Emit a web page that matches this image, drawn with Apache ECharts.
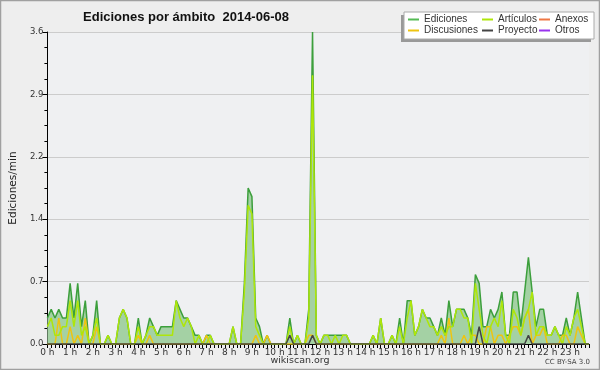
<!DOCTYPE html>
<html><head><meta charset="utf-8">
<script src="https://cdn.jsdelivr.net/npm/echarts@6/dist/echarts.min.js"></script>
<style>html,body{margin:0;padding:0;background:#eeeeee}#c{width:600px;height:370px}</style>
</head><body><div id="c"></div>
<script>
// hour tick labels
const hourLabels = ['0 h','1 h','2 h','3 h','4 h','5 h','6 h','7 h','8 h','9 h','10 h','11 h',
  '12 h','13 h','14 h','15 h','16 h','17 h','18 h','19 h','20 h','21 h','22 h','23 h'];
const minuteSlots = ['00','10','20','30','40','50'];
// categories: 10-minute slots of the day
const categories = [];
hourLabels.forEach((h, hi) => minuteSlots.forEach(m => categories.push(hi + ':' + m)));

// edits per minute, one row per hour (6 x 10-minute slots)
const ediciones = [
  0.3,0.4,0.3,0.4,0.3,0.3,  0.7,0.3,0.7,0.2,0.5,0,    0.1,0.5,0,0,0.1,0,      0,0.3,0.4,0.3,0,0,
  0.3,0,0.1,0.3,0.2,0.1,    0.2,0.2,0.2,0.2,0.5,0.4,  0.3,0.3,0.2,0.1,0.1,0,  0.1,0.1,0,0,0,0,
  0,0.2,0,0,0.7,1.8,        1.7,0.3,0.2,0,0.1,0,      0,0,0,0,0.3,0,          0.1,0,0,0.4,3.6,0.1,
  0,0.1,0.1,0.1,0.1,0.1,    0.1,0.1,0,0,0,0,          0,0,0.1,0,0.3,0,        0,0.1,0,0.3,0,0.5,
  0.5,0.1,0.2,0.4,0.3,0.3,  0.2,0.1,0.3,0.1,0.5,0.2,  0.4,0.4,0.4,0.3,0.1,0.8,0.7,0.2,0.2,0.4,0.3,0.4,
  0.6,0.1,0.1,0.6,0.6,0.2,  0.6,1.0,0.6,0.2,0.4,0.4,  0.1,0.1,0.2,0.1,0.1,0.3,0.1,0.3,0.6,0.3,0,0
];
const articulos = [
  0.2,0.3,0.1,0.1,0.2,0.2,  0.5,0.2,0.5,0.1,0.2,0,    0.1,0.3,0,0,0.1,0,      0,0.3,0.4,0.3,0,0,
  0.2,0,0.1,0.2,0.2,0.1,    0.1,0.1,0.1,0.1,0.5,0.3,  0.2,0.3,0.2,0,0.1,0,    0,0.1,0,0,0,0,
  0,0.2,0,0,0.6,1.6,        1.5,0.2,0.1,0,0,0,        0,0,0,0,0.2,0,          0.1,0,0,0.3,3.1,0.1,
  0,0.1,0.1,0,0.1,0,        0.1,0.1,0,0,0,0,          0,0,0.1,0,0.3,0,        0,0.1,0,0.2,0,0.3,
  0.5,0.1,0.2,0.4,0.3,0.2,  0.2,0.1,0.2,0.1,0.2,0.2,  0.4,0.4,0.3,0.3,0,0.7,  0.4,0.1,0,0.2,0.3,0.2,
  0.5,0.1,0,0.4,0.3,0.1,    0.3,0.4,0.6,0.1,0.2,0.2,  0.1,0.1,0.2,0.1,0,0.2,  0.1,0.3,0.4,0.2,0,0
];
const discusiones = [
  0,0,0,0.3,0,0,  0.2,0,0.1,0,0.3,0,  0,0.2,0,0,0,0,  0,0,0,0,0,0,
  0.1,0,0,0.1,0,0,  0,0,0,0,0,0,  0,0,0,0,0,0,  0.1,0,0,0,0,0,
  0,0,0,0,0,0,  0,0.1,0,0,0.1,0,  0,0,0,0,0,0,  0,0,0,0.1,0.1,0,
  0,0,0,0,0,0,  0,0,0,0,0,0,  0,0,0,0,0,0,  0,0,0,0,0,0,
  0,0,0,0,0,0,  0,0,0.1,0,0.3,0,  0,0,0.1,0,0.1,0.1,  0,0,0.2,0.2,0,0.1,
  0.1,0,0.1,0.2,0.2,0.1,  0.3,0.4,0,0.1,0.1,0.2,  0,0,0,0,0.1,0.1,  0,0,0.2,0.1,0,0
];
const proyecto = [
  0,0,0,0,0,0,  0,0,0,0,0,0,  0,0,0,0,0,0,  0,0,0,0,0,0,
  0,0,0,0,0,0,  0,0,0,0,0,0,  0,0,0,0,0,0,  0,0,0,0,0,0,
  0,0,0,0,0,0,  0,0,0,0,0,0,  0,0,0,0,0.1,0,  0,0,0,0,0.1,0,
  0,0,0,0,0,0,  0,0,0,0,0,0,  0,0,0,0,0,0,  0,0,0,0,0,0,
  0,0,0,0,0,0,  0,0,0,0,0,0,  0,0,0,0,0,0,  0.2,0,0,0,0,0,
  0,0,0,0,0,0,  0,0.1,0,0,0,0,  0,0,0,0,0,0,  0,0,0,0,0,0
];
const anexos = [];
const otros = [];
const yTicks = [0, 0.72, 1.44, 2.16, 2.88, 3.6];

const chart = echarts.init(document.getElementById('c'), null, {renderer: 'canvas'});
const lg = (items, left) => ({
  data: items, left: left, top: 14, orient: 'vertical', icon: 'rect',
  itemWidth: 11, itemHeight: 2, itemGap: 0, padding: 0,
  textStyle: {fontSize: 10, lineHeight: 11, color: '#333', fontFamily: 'Liberation Sans'}
});
const lineSeries = (name, data, color, z) => ({
  name, type: 'line', data, symbol: 'none', z,
  lineStyle: {color, width: 1.5}, itemStyle: {color}
});
chart.setOption({
  animation: false,
  backgroundColor: '#eeeeee',
  grid: {left: 47, right: 11, top: 32, bottom: 26, show: true, backgroundColor: '#eff0f2', borderWidth: 0},
  legend: [lg(['Ediciones','Discusiones'], 408), lg(['Artículos','Proyecto'], 482), lg(['Anexos','Otros'], 539)],
  xAxis: {
    type: 'category', data: categories, boundaryGap: false,
    axisLine: {lineStyle: {color: '#000', width: 1}},
    axisTick: {show: true, interval: 0, length: 4, lineStyle: {color: '#000'}},
    axisLabel: {
      interval: (i) => i % 6 === 0,
      formatter: (v, i) => hourLabels[Math.floor(i / 6)],
      fontSize: 9, color: '#333', fontFamily: 'DejaVu Sans', margin: 4
    },
    splitLine: {show: false}
  },
  yAxis: {
    type: 'value', min: 0, max: 3.6, interval: 0.72,
    name: 'Ediciones/min', nameLocation: 'middle', nameGap: 28,
    nameTextStyle: {fontSize: 10.5, color: '#222', fontFamily: 'DejaVu Sans'},
    axisLine: {show: true, lineStyle: {color: '#000', width: 1}},
    axisTick: {show: true, length: 5, lineStyle: {color: '#000'}},
    minorTick: {show: true, splitNumber: 4, length: 3, lineStyle: {color: '#000'}},
    axisLabel: {formatter: (v) => v.toFixed(1), fontSize: 8.5, color: '#333', fontFamily: 'DejaVu Sans', margin: 4},
    splitLine: {show: true, lineStyle: {color: '#cccccc', width: 1}}
  },
  series: [
    Object.assign(lineSeries('Ediciones', ediciones, '#3c9f3c', 2),
      {itemStyle: {color: '#55bb55'}, areaStyle: {color: '#a4d1a4', opacity: 1}}),
    lineSeries('Otros', otros, '#9933ee', 3),
    lineSeries('Anexos', anexos, '#ee7744', 3),
    lineSeries('Discusiones', discusiones, '#eec411', 3),
    lineSeries('Artículos', articulos, '#aee60a', 4),
    lineSeries('Proyecto', proyecto, '#444444', 5)
  ],
  graphic: [
    {type: 'rect', z: 3, shape: {x: 401, y: 15, width: 190, height: 27}, style: {fill: '#999999'}},
    {type: 'rect', z: 3, shape: {x: 404, y: 12, width: 190, height: 27}, style: {fill: '#ffffff', stroke: '#aaaaaa', lineWidth: 1}},
    {type: 'text', z: 5, x: 186, y: 17, style: {text: 'Ediciones por ámbito  2014-06-08', fontSize: 13, fontWeight: 'bold',
      fontFamily: 'Liberation Sans', fill: '#111', textAlign: 'center', textVerticalAlign: 'middle'}},
    {type: 'text', z: 5, x: 300, y: 361, style: {text: 'wikiscan.org', fontSize: 9.5, fontFamily: 'DejaVu Sans',
      fill: '#333', textAlign: 'center', textVerticalAlign: 'middle'}},
    {type: 'text', z: 5, x: 590, y: 362, style: {text: 'CC BY-SA 3.0', fontSize: 7, fontFamily: 'DejaVu Sans',
      fill: '#444', textAlign: 'right', textVerticalAlign: 'middle'}},
    {type: 'rect', z: 10, silent: true, shape: {x: 0.5, y: 0.5, width: 599, height: 369},
      style: {fill: 'none', stroke: '#a0a0a0', lineWidth: 1.5}}
  ]
});
</script></body></html>
